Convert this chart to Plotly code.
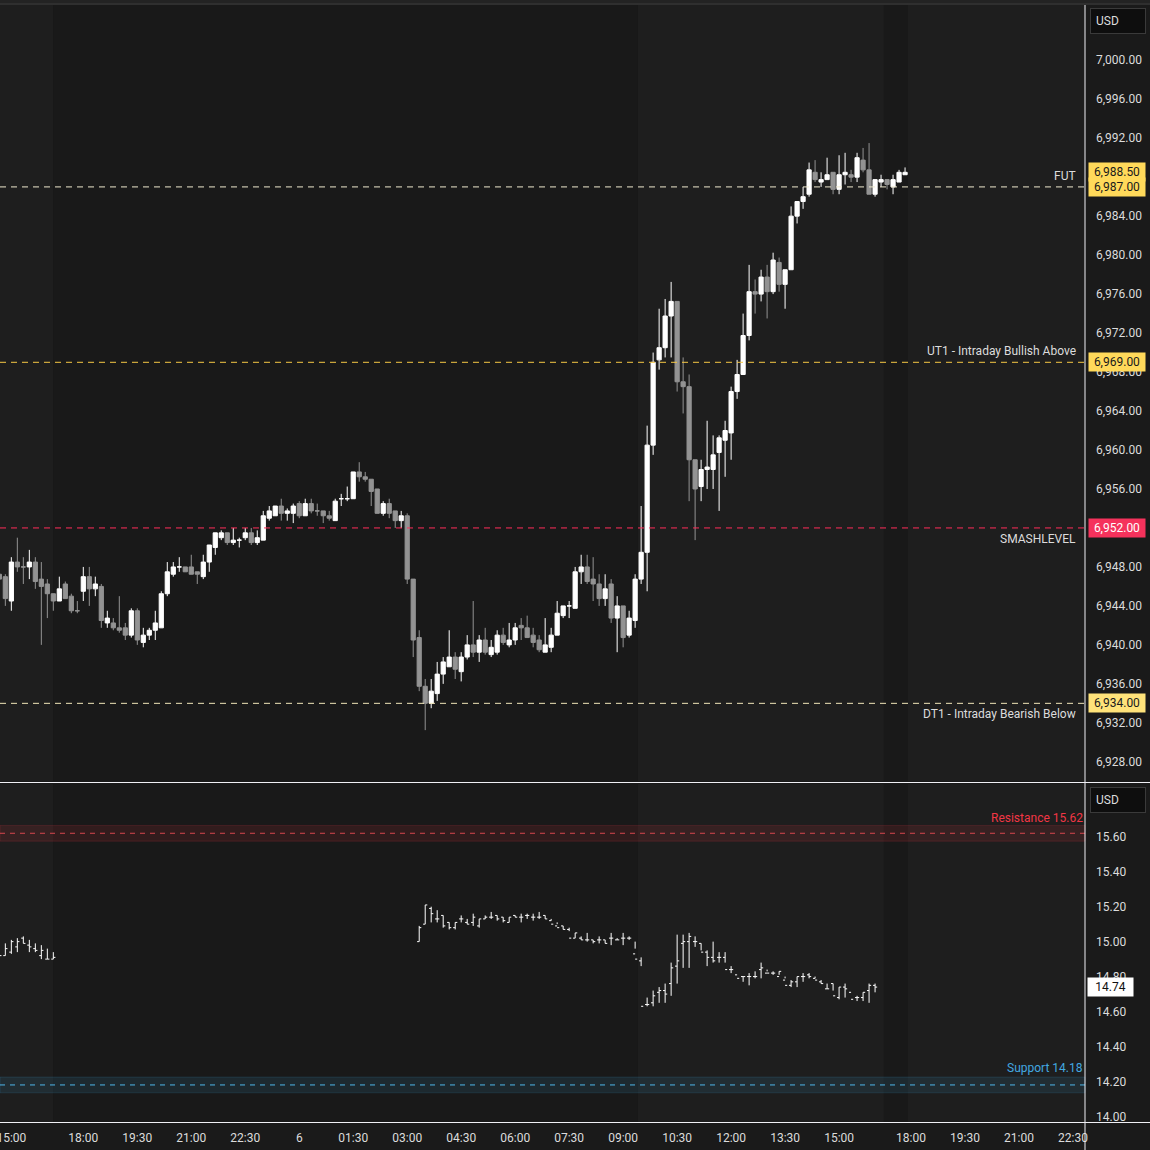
import plotly.graph_objects as go

# ---------------- DATA ----------------
# 10-minute bars; position 0 = 15:00 on the 5th (session break 17:00-18:00 skipped)
es_bar = list(range(-2, 150))
es_open = [6947.25, 6947.0, 6944.5, 6948.5, 6948.0, 6948.0, 6948.5, 6946.75, 6946.25, 6945.25,
           6944.5, 6946.25, 6945.0, 6943.5, 6945.5, 6947.0, 6945.75, 6946.0, 6942.25, 6942.25,
           6941.75, 6941.75, 6941.0, 6943.5, 6940.25, 6941.0, 6941.5, 6941.75, 6945.25, 6947.25,
           6948.0, 6948.0, 6948.0, 6947.5, 6947.0, 6948.5, 6950.0, 6951.0, 6951.5, 6950.5,
           6950.75, 6951.0, 6951.5, 6950.5, 6950.75, 6953.0, 6953.25, 6954.25, 6953.5, 6953.5,
           6954.5, 6953.25, 6954.5, 6953.75, 6953.75, 6953.25, 6952.75, 6955.0, 6955.0, 6955.0,
           6957.75, 6957.25, 6957.0, 6956.0, 6953.5, 6954.5, 6953.75, 6952.75, 6953.25, 6946.75,
           6940.75, 6935.75, 6934.0, 6935.0, 6937.0, 6937.75, 6938.75, 6937.25, 6938.75, 6940.0,
           6939.25, 6940.5, 6939.0, 6939.25, 6941.0, 6940.0, 6940.5, 6942.0, 6941.75, 6941.0,
           6940.5, 6939.25, 6939.75, 6941.0, 6943.0, 6944.0, 6943.75, 6947.5, 6948.0, 6946.75,
           6946.25, 6944.75, 6946.25, 6942.75, 6944.0, 6941.0, 6942.5, 6946.75, 6949.5, 6960.5,
           6969.25, 6970.5, 6973.75, 6975.25, 6967.0, 6966.5, 6959.0, 6956.25, 6958.0, 6958.0,
           6959.75, 6961.0, 6961.75, 6966.0, 6967.75, 6971.75, 6976.25, 6976.0, 6977.75, 6976.25,
           6979.25, 6977.0, 6978.5, 6984.0, 6985.5, 6986.25, 6988.5, 6987.5, 6987.75, 6988.5,
           6986.75, 6988.25, 6988.25, 6988.0, 6989.75, 6988.75, 6986.25, 6987.5, 6987.75, 6987.0,
           6987.5, 6988.25]
es_high = [6947.5, 6947.25, 6949.0, 6951.0, 6949.0, 6949.75, 6949.0, 6948.5, 6946.75, 6945.25,
           6947.0, 6946.5, 6945.25, 6944.5, 6948.0, 6948.0, 6947.0, 6946.25, 6943.5, 6942.75,
           6945.0, 6942.25, 6943.75, 6943.75, 6941.75, 6941.75, 6943.5, 6945.5, 6948.5, 6948.5,
           6949.0, 6948.0, 6949.25, 6947.5, 6949.25, 6950.25, 6951.5, 6951.75, 6951.5, 6952.0,
           6951.0, 6952.0, 6952.0, 6951.75, 6953.75, 6954.25, 6954.25, 6955.0, 6954.0, 6954.5,
           6954.75, 6955.0, 6955.0, 6954.5, 6953.75, 6953.75, 6955.0, 6955.5, 6956.25, 6957.75,
           6958.75, 6957.75, 6957.0, 6956.0, 6954.75, 6955.0, 6953.75, 6953.75, 6953.5, 6946.75,
           6941.5, 6936.5, 6936.5, 6938.25, 6938.75, 6941.5, 6939.25, 6939.25, 6941.0, 6944.5,
           6941.0, 6941.75, 6940.5, 6941.5, 6941.75, 6942.25, 6942.25, 6942.75, 6943.0, 6941.75,
           6941.0, 6942.75, 6941.75, 6944.5, 6944.0, 6944.5, 6948.0, 6949.25, 6949.25, 6949.0,
           6947.25, 6947.25, 6946.75, 6945.0, 6944.0, 6943.5, 6947.25, 6954.25, 6962.5, 6970.0,
           6974.5, 6975.5, 6977.25, 6975.25, 6969.5, 6967.75, 6959.0, 6959.0, 6963.0, 6961.5,
           6961.5, 6963.0, 6966.5, 6969.25, 6974.0, 6979.0, 6977.5, 6978.5, 6979.0, 6980.25,
           6979.75, 6978.5, 6985.0, 6985.5, 6987.0, 6989.5, 6989.75, 6988.5, 6990.0, 6988.5,
           6990.25, 6990.5, 6988.75, 6990.5, 6991.0, 6991.5, 6987.75, 6988.25, 6987.75, 6988.25,
           6988.75, 6989.0]
es_low = [6946.5, 6944.0, 6943.5, 6947.5, 6946.25, 6946.75, 6945.75, 6940.0, 6942.75, 6943.5,
          6944.5, 6944.75, 6943.25, 6943.25, 6944.5, 6944.0, 6945.0, 6941.75, 6941.75, 6941.5,
          6941.25, 6940.5, 6940.75, 6940.0, 6939.75, 6940.5, 6940.5, 6941.75, 6945.0, 6947.0,
          6947.5, 6947.5, 6947.25, 6946.25, 6946.75, 6947.5, 6949.25, 6950.75, 6950.25, 6950.25,
          6950.0, 6950.75, 6950.25, 6950.25, 6950.75, 6952.75, 6953.25, 6952.75, 6952.75, 6952.5,
          6953.0, 6953.25, 6953.5, 6953.25, 6952.5, 6952.75, 6952.75, 6954.25, 6954.75, 6955.0,
          6956.75, 6956.75, 6954.25, 6953.5, 6953.25, 6953.0, 6952.0, 6952.0, 6946.25, 6938.75,
          6935.25, 6931.25, 6933.5, 6934.25, 6936.0, 6937.75, 6936.5, 6936.25, 6938.5, 6938.75,
          6938.25, 6939.0, 6938.75, 6939.0, 6940.0, 6939.75, 6940.0, 6940.5, 6940.75, 6939.75,
          6939.25, 6939.25, 6939.25, 6941.0, 6942.75, 6942.75, 6943.75, 6946.25, 6946.25, 6944.5,
          6944.0, 6944.0, 6942.25, 6939.25, 6939.75, 6940.75, 6941.75, 6946.25, 6945.5, 6959.5,
          6968.25, 6969.5, 6969.5, 6966.0, 6963.75, 6954.75, 6950.75, 6954.75, 6956.0, 6956.0,
          6953.75, 6957.25, 6959.0, 6965.25, 6967.75, 6971.25, 6974.0, 6975.25, 6973.5, 6976.0,
          6976.25, 6974.5, 6978.5, 6983.25, 6984.75, 6986.0, 6987.5, 6987.0, 6987.75, 6986.25,
          6986.25, 6987.25, 6987.5, 6987.5, 6988.5, 6986.25, 6986.0, 6987.0, 6986.75, 6986.25,
          6987.5, 6988.25]
es_close = [6946.75, 6944.75, 6948.5, 6948.0, 6948.0, 6948.5, 6946.5, 6946.0, 6945.25, 6944.5,
            6945.75, 6944.75, 6943.5, 6943.5, 6947.0, 6945.75, 6946.25, 6942.5, 6942.75, 6941.75,
            6941.5, 6941.0, 6943.5, 6940.5, 6941.0, 6941.5, 6942.25, 6945.25, 6947.5, 6948.0,
            6948.0, 6947.5, 6947.25, 6947.25, 6948.5, 6950.25, 6951.5, 6951.5, 6950.5, 6950.75,
            6950.75, 6951.5, 6950.5, 6951.0, 6953.25, 6953.75, 6954.25, 6953.5, 6953.75, 6954.25,
            6953.25, 6954.5, 6953.75, 6953.75, 6953.25, 6953.0, 6954.75, 6955.0, 6955.0, 6957.75,
            6957.25, 6957.0, 6955.75, 6953.5, 6954.5, 6953.5, 6952.75, 6953.25, 6946.75, 6940.5,
            6935.75, 6934.0, 6935.25, 6937.0, 6938.25, 6938.75, 6937.5, 6938.75, 6940.0, 6939.25,
            6940.5, 6939.25, 6939.75, 6941.0, 6940.25, 6940.5, 6941.75, 6941.75, 6940.75, 6940.25,
            6939.5, 6940.0, 6941.0, 6943.25, 6944.0, 6944.0, 6947.5, 6948.0, 6946.5, 6946.25,
            6944.75, 6945.75, 6942.75, 6944.0, 6940.75, 6942.75, 6946.75, 6949.5, 6960.5, 6969.0,
            6970.5, 6973.75, 6975.25, 6967.0, 6966.5, 6959.0, 6956.0, 6958.0, 6958.25, 6959.5,
            6961.25, 6962.0, 6966.0, 6967.75, 6971.75, 6976.25, 6976.0, 6977.75, 6976.25, 6979.5,
            6977.0, 6978.5, 6984.0, 6985.5, 6986.0, 6988.75, 6987.75, 6987.75, 6988.25, 6986.75,
            6988.25, 6988.5, 6988.0, 6990.0, 6988.75, 6986.25, 6987.75, 6987.75, 6987.25, 6987.75,
            6988.5, 6988.5]

vix_bar = list(range(-2, 8)) + list(range(68, 146))
vix_open = [14.92, 14.92, 14.94, 14.97, 15.02, 14.98, 14.96, 14.92, 14.90, 14.90,
            15.00, 15.10, 15.19, 15.13, 15.15, 15.11, 15.08, 15.13, 15.11, 15.11,
            15.09, 15.13, 15.14, 15.15, 15.14, 15.11, 15.15, 15.14, 15.15, 15.14,
            15.14, 15.15, 15.12, 15.09, 15.09, 15.07, 15.02, 15.02, 15.01, 15.01,
            15.01, 15.01, 15.02, 15.01, 15.02, 15.02, 14.93, 14.89, 14.64, 14.65,
            14.71, 14.72, 14.76, 14.86, 14.99, 15.00, 15.00, 14.99, 14.94, 14.91,
            14.91, 14.91, 14.84, 14.81, 14.80, 14.80, 14.80, 14.84, 14.82, 14.82,
            14.80, 14.78, 14.75, 14.77, 14.80, 14.81, 14.79, 14.77, 14.73, 14.76,
            14.68, 14.74, 14.71, 14.68, 14.68, 14.72, 14.75]
vix_high = [14.93, 14.99, 15.01, 15.02, 15.03, 15.01, 14.99, 14.98, 14.96, 14.94,
            15.09, 15.21, 15.20, 15.18, 15.15, 15.11, 15.11, 15.15, 15.13, 15.16,
            15.13, 15.15, 15.17, 15.15, 15.14, 15.14, 15.15, 15.16, 15.16, 15.16,
            15.17, 15.15, 15.13, 15.11, 15.09, 15.08, 15.05, 15.03, 15.05, 15.01,
            15.03, 15.01, 15.05, 15.02, 15.05, 15.03, 14.96, 14.91, 14.68, 14.72,
            14.74, 14.76, 14.88, 15.04, 15.04, 15.05, 15.03, 14.99, 14.95, 15.00,
            14.94, 14.94, 14.86, 14.82, 14.80, 14.82, 14.83, 14.88, 14.84, 14.83,
            14.83, 14.80, 14.78, 14.80, 14.82, 14.82, 14.80, 14.78, 14.76, 14.76,
            14.74, 14.76, 14.72, 14.69, 14.71, 14.76, 14.76]
vix_low = [14.91, 14.92, 14.93, 14.94, 14.99, 14.94, 14.94, 14.90, 14.90, 14.90,
           15.00, 15.10, 15.11, 15.11, 15.08, 15.07, 15.07, 15.11, 15.10, 15.09,
           15.08, 15.13, 15.13, 15.12, 15.11, 15.11, 15.14, 15.11, 15.13, 15.12,
           15.13, 15.13, 15.12, 15.10, 15.07, 15.06, 15.02, 15.01, 15.00, 14.99,
           14.99, 14.99, 14.98, 15.01, 14.98, 15.01, 15.00, 14.86, 14.63, 14.63,
           14.65, 14.65, 14.69, 14.76, 14.85, 14.85, 14.97, 14.95, 14.86, 14.88,
           14.88, 14.88, 14.82, 14.82, 14.77, 14.75, 14.79, 14.79, 14.83, 14.81,
           14.81, 14.79, 14.74, 14.74, 14.77, 14.79, 14.79, 14.76, 14.73, 14.72,
           14.67, 14.68, 14.72, 14.66, 14.66, 14.65, 14.71, 14.74]
vix_close = [14.92, 14.96, 15.00, 15.00, 14.99, 14.97, 14.95, 14.95, 14.90, 14.91,
             15.08, 15.21, 15.16, 15.13, 15.09, 15.08, 15.11, 15.13, 15.10, 15.14,
             15.13, 15.14, 15.14, 15.13, 15.12, 15.14, 15.14, 15.14, 15.15, 15.14,
             15.14, 15.13, 15.10, 15.08, 15.07, 15.02, 15.05, 15.01, 15.01, 15.00,
             15.01, 14.99, 15.02, 15.01, 15.02, 15.02, 14.90, 14.63, 14.64, 14.69,
             14.72, 14.70, 14.85, 14.89, 15.00, 15.03, 15.00, 14.94, 14.91, 14.89,
             14.91, 14.84, 14.84, 14.79, 14.80, 14.80, 14.80, 14.85, 14.82, 14.82,
             14.83, 14.75, 14.77, 14.80, 14.80, 14.80, 14.78, 14.76, 14.73, 14.69,
             14.74, 14.73, 14.67, 14.68, 14.71, 14.75, 14.74]

tick_pos = [0, 12, 21, 30, 39, 48, 57, 66, 75, 84, 93, 102, 111, 120, 129, 138, 150, 159, 168, 177]
tick_text = ["15:00", "18:00", "19:30", "21:00", "22:30", "6", "01:30", "03:00", "04:30", "06:00",
             "07:30", "09:00", "10:30", "12:00", "13:30", "15:00", "18:00", "19:30", "21:00", "22:30"]

# session shading (bar positions): regular-hours blocks
light_sessions = [(-3, 6.95), (104.45, 145.45), (149.45, 180)]

level_names = ["FUT", "UT1 - Intraday Bullish Above", "SMASHLEVEL", "DT1 - Intraday Bearish Below"]
level_values = [6987.00, 6969.00, 6952.00, 6934.00]
es_last = 6988.50
vix_resistance = 15.62
vix_support = 14.18
vix_last = 14.74

# ---------------- LAYOUT CONSTANTS ----------------
W = H = 1150
XR = 1085 / W           # right edge of plotting area
MAIN = [1 - 781 / H, 1 - 5 / H]
SUB = [1 - 1122 / H, 1 - 784 / H]
FONT = "Roboto"
TXT = "#dcdcdc"
DARK = "#191919"
LIGHT = "#1e1e1e"

fig = go.Figure()
fig.add_trace(go.Candlestick(
    x=es_bar, open=es_open, high=es_high, low=es_low, close=es_close,
    xaxis="x", yaxis="y",
    increasing=dict(line=dict(color="#ffffff", width=1), fillcolor="#ffffff"),
    decreasing=dict(line=dict(color="#939393", width=1), fillcolor="#939393"),
    whiskerwidth=0, showlegend=False, hoverinfo="skip"))
fig.add_trace(go.Ohlc(
    x=vix_bar, open=vix_open, high=vix_high, low=vix_low, close=vix_close,
    xaxis="x", yaxis="y2", tickwidth=0.35,
    increasing=dict(line=dict(color="#ffffff", width=1)),
    decreasing=dict(line=dict(color="#ffffff", width=1)),
    showlegend=False, hoverinfo="skip"))

shapes = []
# session shading
for a, b in light_sessions:
    for yr in ("y domain", "y2 domain"):
        shapes.append(dict(type="rect", xref="x", yref=yr, x0=a, x1=b, y0=0, y1=1,
                           fillcolor=LIGHT, line=dict(width=0), layer="below"))
# level lines
level_colors = ["#efe9cf", "#f6c744", "#ff2d5a", "#f1e6b8"]
for v, c in zip(level_values, level_colors):
    shapes.append(dict(type="line", xref="paper", yref="y", x0=0, x1=XR, y0=v, y1=v,
                       line=dict(color=c, width=1, dash="6px,5px")))
# VIX bands
for v, fill, edge, dash in [(vix_resistance, "rgba(242,54,69,0.12)", "rgba(242,54,69,0.16)", "#d9474f"),
                            (vix_support, "rgba(60,170,230,0.11)", "rgba(60,170,230,0.15)", "#4fb6ea")]:
    shapes.append(dict(type="rect", xref="paper", yref="y2", x0=0, x1=XR, y0=v - 0.045, y1=v + 0.045,
                       fillcolor=fill, line=dict(color=edge, width=1)))
    shapes.append(dict(type="line", xref="paper", yref="y2", x0=0, x1=XR, y0=v, y1=v,
                       line=dict(color=dash, width=1, dash="5px,5px")))
# frame lines
shapes.append(dict(type="rect", xref="paper", yref="paper", x0=0, x1=1, y0=1 - 3 / H, y1=1,
                   fillcolor="#232323", line=dict(width=0)))
shapes.append(dict(type="line", xref="paper", yref="paper", x0=0, x1=1, y0=1 - 4 / H, y1=1 - 4 / H,
                   line=dict(color="#2f2f2f", width=2)))
for yy in (782.5, 1122.5):
    shapes.append(dict(type="line", xref="paper", yref="paper", x0=0, x1=1, y0=1 - yy / H, y1=1 - yy / H,
                       line=dict(color="#f0f0f5", width=1)))
shapes.append(dict(type="line", xref="paper", yref="paper", x0=XR, x1=XR, y0=0, y1=1 - 5 / H,
                   line=dict(color="#f0f0f5", width=1)))

ann = []
# level labels
lab_x = 1078 / W
for name, v in zip(level_names, level_values):
    below = name in ("SMASHLEVEL", "DT1 - Intraday Bearish Below")
    ann.append(dict(x=lab_x, xref="paper", y=v, yref="y", text=name, showarrow=False,
                    xanchor="right", yanchor="top" if below else "bottom",
                    yshift=-2 if below else 2, font=dict(family=FONT, size=12, color=TXT)))
# price badges
badge_x = 1088 / W
def badge(v, yref, text, bg, fg, width=52):
    ann.append(dict(x=badge_x, xref="paper", y=v, yref=yref, text=text, showarrow=False,
                    xanchor="left", yanchor="middle", bgcolor=bg, borderpad=2, width=width,
                    font=dict(family=FONT, size=12, color=fg)))
badge(es_last, "y", f"{es_last:,.2f}", "#ffd95a", "#1a1a1a")
badge(level_values[0], "y", f"{level_values[0]:,.2f}", "#ffd95a", "#1a1a1a")
badge(level_values[1], "y", f"{level_values[1]:,.2f}", "#ffd95a", "#1a1a1a")
badge(level_values[2], "y", f"{level_values[2]:,.2f}", "#f5325c", "#ffffff")
badge(level_values[3], "y", f"{level_values[3]:,.2f}", "#ffe37a", "#1a1a1a")
ann.append(dict(x=1087 / W, xref="paper", y=vix_last, yref="y2", text=f"{vix_last:.2f}", showarrow=False,
                xanchor="left", yanchor="middle", bgcolor="#ffffff", borderpad=2, width=41,
                font=dict(family=FONT, size=12, color="#111111")))
# VIX level labels
ann.append(dict(x=XR, xref="paper", y=vix_resistance, yref="y2", text=f"Resistance {vix_resistance:.2f}",
                showarrow=False, xanchor="right", yanchor="bottom", yshift=6,
                font=dict(family=FONT, size=12, color="#f23645")))
ann.append(dict(x=XR, xref="paper", y=vix_support, yref="y2", text=f"Support {vix_support:.2f}",
                showarrow=False, xanchor="right", yanchor="bottom", yshift=8,
                font=dict(family=FONT, size=12, color="#42a8e0")))
# USD boxes
for ytop in (8, 787):
    ann.append(dict(x=1090 / W, xref="paper", y=1 - ytop / H, yref="paper", text="USD", showarrow=False,
                    xanchor="left", yanchor="top", bgcolor="#0e0e0e", bordercolor="#3a3a3a", borderwidth=1,
                    borderpad=5, width=44, align="left",
                    font=dict(family=FONT, size=12, color=TXT)))

fig.update_layout(
    width=W, height=H, margin=dict(l=0, r=0, t=0, b=0, autoexpand=False),
    paper_bgcolor="#1a1a1a", plot_bgcolor=DARK,
    boxgap=0.3, boxgroupgap=0,
    shapes=shapes, annotations=ann,
    font=dict(family=FONT, size=12, color=TXT),
    xaxis=dict(domain=[0, XR], anchor="y2", range=[-1.89, 179.0], tickmode="array",
               tickvals=tick_pos, ticktext=tick_text, showgrid=False, zeroline=False,
               showline=False, ticks="", ticklabelstandoff=7, ticklabeloverflow="allow",
               automargin=False, rangeslider=dict(visible=False),
               tickfont=dict(family=FONT, size=12, color=TXT)),
    yaxis=dict(domain=MAIN, anchor="x", side="right", range=[6926.03, 7005.67], dtick=4, tick0=6928,
               tickformat=",.2f", showgrid=False, zeroline=False, showline=False, ticks="",
               automargin=False, ticklabelstandoff=10, tickfont=dict(family=FONT, size=12, color=TXT)),
    yaxis2=dict(domain=SUB, anchor="x", side="right", range=[13.968, 15.902], dtick=0.2, tick0=14.0,
                tickformat=".2f", showgrid=False, zeroline=False, showline=False, ticks="",
                automargin=False, ticklabelstandoff=10, tickfont=dict(family=FONT, size=12, color=TXT)),
)

fig.write_html("out.html", config={"displayModeBar": False},
               post_script="document.body.style.margin='0';"
                           "document.querySelectorAll('.svg-container').forEach(function(e){e.style.display='block';});")
